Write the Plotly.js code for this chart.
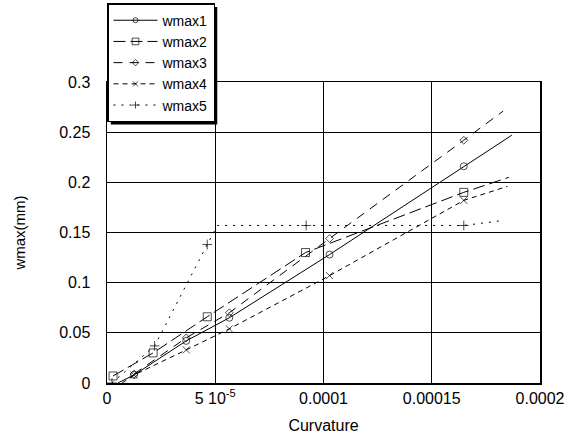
<!DOCTYPE html>
<html>
<head>
<meta charset="utf-8">
<script src="https://cdn.plot.ly/plotly-3.0.1.min.js"></script>
<style>html,body{margin:0;padding:0;background:#fff;}#chart{width:571px;height:443px;}</style>
</head>
<body>
<div id="chart"></div>
<script>
// ---- data ----
const curvatureTicks = [0, 5e-5, 1e-4, 1.5e-4, 2e-4];
const curvatureTickLabels = ["0", "5 10<sup>-5</sup>", "0.0001", "0.00015", "0.0002"];
const wmaxTicks = [0, 0.05, 0.1, 0.15, 0.2, 0.25, 0.3];
const wmaxTickLabels = ["0", "0.05", "0.1", "0.15", "0.2", "0.25", "0.3"];

const wmax1X = [5e-6, 1.25e-5, 3.66e-5, 5.65e-5, 1.028e-4, 1.648e-4, 1.87e-4];
const wmax1Y = [0, 0.008, 0.042, 0.065, 0.128, 0.216, 0.247];
const wmax1Measured = [false, true, true, true, true, true, false];

const wmax2X = [2.8e-6, 2.13e-5, 4.63e-5, 9.17e-5, 1.648e-4, 1.856e-4];
const wmax2Y = [0.007, 0.030, 0.066, 0.130, 0.190, 0.205];
const wmax2Measured = [true, true, true, true, true, false];

const wmax3X = [1.25e-5, 3.66e-5, 5.65e-5, 1.028e-4, 1.648e-4, 1.83e-4];
const wmax3Y = [0.009, 0.045, 0.070, 0.144, 0.242, 0.271];
const wmax3Measured = [true, true, true, true, true, false];

const wmax4X = [7e-6, 1.25e-5, 3.66e-5, 5.65e-5, 1.028e-4, 1.648e-4, 1.85e-4];
const wmax4Y = [0, 0.008, 0.033, 0.054, 0.107, 0.182, 0.196];
const wmax4Measured = [false, true, true, true, true, true, false];

const wmax5X = [2.3e-6, 2.2e-5, 4.63e-5, 5.1e-5, 9.2e-5, 1.648e-4, 1.83e-4];
const wmax5Y = [0, 0.037, 0.138, 0.157, 0.157, 0.157, 0.162];
const wmax5Measured = [true, true, true, false, true, true, false];

const seriesNames = ["wmax1", "wmax2", "wmax3", "wmax4", "wmax5"];

// ---- styles ----
const FONT = "Liberation Sans, Arial, sans-serif";
const styles = [
  {symbol: "circle-open", size: 7, dash: "solid"},
  {symbol: "square-open", size: 8, dash: "12px,5px"},
  {symbol: "diamond-open", size: 6, dash: "9px,7px"},
  {symbol: "x-thin-open", size: 7, dash: "5px,4px"},
  {symbol: "cross-thin-open", size: 7, dash: "2px,6px"}
];
const xs = [wmax1X, wmax2X, wmax3X, wmax4X, wmax5X];
const ys = [wmax1Y, wmax2Y, wmax3Y, wmax4Y, wmax5Y];
const measured = [wmax1Measured, wmax2Measured, wmax3Measured, wmax4Measured, wmax5Measured];

const traces = seriesNames.map((name, i) => ({
  type: "scatter",
  mode: "lines+markers",
  name: name,
  x: xs[i],
  y: ys[i],
  line: {color: "#000", width: 1, dash: styles[i].dash},
  marker: {
    symbol: styles[i].symbol,
    color: "#000",
    size: measured[i].map(m => m ? styles[i].size : 0),
    line: {color: "#000", width: 1}
  }
}));

const layout = {
  width: 571, height: 443,
  margin: {l: 107, r: 31, t: 82, b: 60, autoexpand: false},
  paper_bgcolor: "#fff", plot_bgcolor: "#fff",
  font: {family: FONT, size: 16, color: "#000"},
  showlegend: true,
  legend: {
    x: 0.0, y: 1.262, xanchor: "left", yanchor: "top",
    bgcolor: "#fff", bordercolor: "#000", borderwidth: 1.5,
    font: {family: FONT, size: 14, color: "#000"},
    itemwidth: 44
  },
  xaxis: {
    range: [0, 2e-4],
    tickvals: curvatureTicks, ticktext: curvatureTickLabels,
    showgrid: true, gridcolor: "#000", gridwidth: 1,
    zeroline: false, showline: true, linecolor: "#000", linewidth: 1.5, mirror: true,
    ticks: "", tickfont: {family: FONT, size: 16},
    title: {text: "Curvature", font: {family: FONT, size: 16}, standoff: 14}
  },
  yaxis: {
    range: [0, 0.3],
    tickvals: wmaxTicks, ticktext: wmaxTickLabels,
    showgrid: true, gridcolor: "#000", gridwidth: 1,
    zeroline: false, showline: true, linecolor: "#000", linewidth: 1.5, mirror: true,
    ticks: "", tickfont: {family: FONT, size: 16}, ticklabelstandoff: 12,
    title: {text: "wmax(mm)", font: {family: FONT, size: 15}, standoff: 30}
  }
};

const gd = document.getElementById("chart");
Plotly.newPlot(gd, traces, layout, {staticPlot: true, displayModeBar: false});

// legend drop shadow, sized from the drawn legend box
const bg = gd.querySelector(".legend .bg");
if (bg) {
  const r = bg.getBoundingClientRect();
  const c = gd.getBoundingClientRect();
  const sz = gd._fullLayout._size;
  const px = v => (v - c.left - sz.l) / sz.w;
  const py = v => 1 - (v - c.top - sz.t) / sz.h;
  Plotly.relayout(gd, {shapes: [{
    type: "rect", xref: "paper", yref: "paper", layer: "above",
    x0: px(r.left + 3), x1: px(r.right + 3), y0: py(r.bottom + 3), y1: py(r.top + 3),
    fillcolor: "#000", line: {width: 0}
  }]});
}
</script>
</body>
</html>
